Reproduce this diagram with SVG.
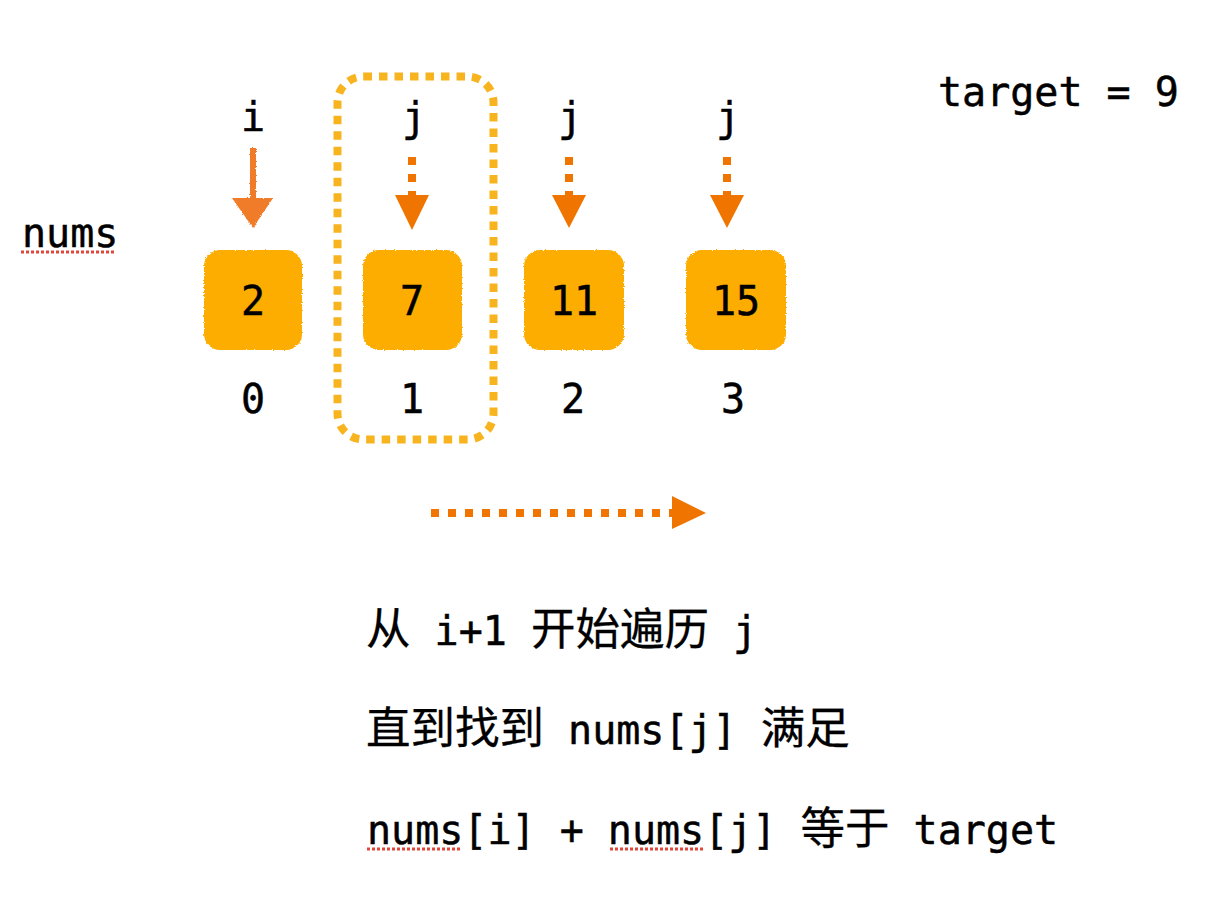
<svg xmlns="http://www.w3.org/2000/svg" width="1232" height="912" viewBox="0 0 1232 912">
  <style>
    .t { font-family: "DejaVu Sans Mono", "Liberation Mono", "Noto Sans CJK SC", monospace; font-size: 40px; fill: #000; stroke: #000; stroke-width: 0.5px; }
    .c { font-family: "Noto Sans CJK SC", sans-serif; font-size: 44.5px; stroke-width: 0.3px; }
    .mid { text-anchor: middle; }
    .box { fill: #FCAD06; }
    .stem { stroke: #EF7500; stroke-width: 8; stroke-dasharray: 8 9; fill: none; }
    .head { fill: #EF7500; }
    .squig { stroke: #E0463A; stroke-width: 3; stroke-dasharray: 3 2; fill: none; }
  </style>
  <defs>
    <filter id="rough" x="-10%" y="-10%" width="120%" height="120%">
      <feTurbulence type="fractalNoise" baseFrequency="0.9" numOctaves="2" seed="3" result="n"/>
      <feDisplacementMap in="SourceGraphic" in2="n" scale="3" xChannelSelector="R" yChannelSelector="G"/>
    </filter>
  </defs>
  <rect width="1232" height="912" fill="#fff"/>

  <g id="window">
    <rect x="337.5" y="76.5" width="156" height="363" rx="26" ry="26" fill="none" stroke="#F8B41E" stroke-width="8" stroke-dasharray="8.5 7"/>
  </g>

  <g id="label-nums">
    <text class="t" x="22" y="247">nums</text>
    <line class="squig" x1="21" y1="252" x2="115" y2="252"/>
  </g>

  <g id="label-target">
    <text class="t" x="938" y="106">target = 9</text>
  </g>

  <g id="node-0">
    <rect class="box" x="204" y="250" width="98" height="100" rx="16" filter="url(#rough)"/>
    <text class="t mid" x="253" y="315">2</text>
    <text class="t mid" x="253" y="413">0</text>
    <text class="t mid" x="253" y="131">i</text>
  </g>
  <g id="node-1">
    <rect class="box" x="363" y="250" width="99" height="100" rx="16" filter="url(#rough)"/>
    <text class="t mid" x="412" y="315">7</text>
    <text class="t mid" x="412" y="413">1</text>
    <text class="t mid" x="414" y="131">j</text>
  </g>
  <g id="node-2">
    <rect class="box" x="524" y="250" width="100" height="100" rx="16" filter="url(#rough)"/>
    <text class="t mid" x="574" y="315">11</text>
    <text class="t mid" x="573" y="413">2</text>
    <text class="t mid" x="570" y="131">j</text>
  </g>
  <g id="node-3">
    <rect class="box" x="686" y="250" width="100" height="100" rx="16" filter="url(#rough)"/>
    <text class="t mid" x="736" y="315">15</text>
    <text class="t mid" x="733" y="413">3</text>
    <text class="t mid" x="728" y="131">j</text>
  </g>

  <g id="connectors">
    <g id="arrow-i" filter="url(#rough)">
      <line x1="253" y1="148" x2="253" y2="202" stroke="#F07B2A" stroke-width="6"/>
      <polygon points="232,198 273,198 253,228" fill="#F07B2A"/>
    </g>
    <g id="arrow-j1">
      <line class="stem" x1="412" y1="157" x2="412" y2="196"/>
      <polygon class="head" points="395,195 429,195 412,230"/>
    </g>
    <g id="arrow-j2">
      <line class="stem" x1="569" y1="157" x2="569" y2="196"/>
      <polygon class="head" points="552,195 586,195 569,228"/>
    </g>
    <g id="arrow-j3">
      <line class="stem" x1="727" y1="157" x2="727" y2="196"/>
      <polygon class="head" points="710,195 744,195 727,228"/>
    </g>
    <g id="arrow-scan">
      <line class="stem" x1="431" y1="513" x2="673" y2="513"/>
      <polygon class="head" points="672,496 672,529 706,513"/>
    </g>
  </g>

  <g id="description">
    <text class="t" x="366" y="645"><tspan class="c">从</tspan> i+1 <tspan class="c">开始遍历</tspan> j</text>
    <text class="t" x="366" y="744"><tspan class="c">直到找到</tspan> nums[j] <tspan class="c">满足</tspan></text>
    <text class="t" x="367" y="844">nums[i] + nums[j] <tspan class="c">等于</tspan> target</text>
    <line class="squig" x1="367" y1="849" x2="462" y2="849"/>
    <line class="squig" x1="610" y1="849" x2="704" y2="849"/>
  </g>
</svg>
